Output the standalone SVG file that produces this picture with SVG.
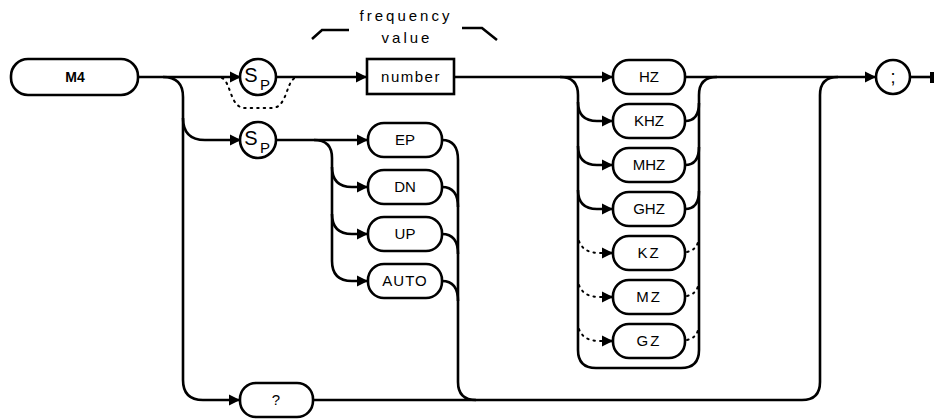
<svg xmlns="http://www.w3.org/2000/svg" width="936" height="419" viewBox="0 0 936 419">
<style>
.ln{fill:none;stroke:#000;stroke-width:2.6}
.dt{fill:none;stroke:#000;stroke-width:2;stroke-dasharray:1.5 5;stroke-linecap:round}
.nd{fill:#fff;stroke:#000;stroke-width:2.6}
.tx{font-family:"Liberation Sans",Arial,sans-serif;font-size:15px;fill:#000;text-anchor:middle}
.b{font-weight:bold;font-size:14px}
.s{font-size:20px}
.p{font-size:15px}
.sc{font-size:18px}
</style>
<defs>
<marker id="ar" markerUnits="userSpaceOnUse" markerWidth="12" markerHeight="12" refX="11" refY="6" orient="auto">
<path d="M0,0.5 L11,6 L0,11.5 z" fill="#000"/>
</marker>
</defs>
<g id="connectors">
<path class="ln" d="M138,77 H241" marker-end="url(#ar)"/>
<path class="ln" d="M276,77 H367" marker-end="url(#ar)"/>
<path class="ln" d="M454,77 H613" marker-end="url(#ar)"/>
<path class="ln" d="M685,77 H876" marker-end="url(#ar)"/>
<path class="ln" d="M910,77 H931"/>
<rect x="930" y="72" width="4" height="11" fill="#000"/>
<path class="ln" d="M163,77 Q183,77 183,97 V380 Q183,400 203,400 H240" marker-end="url(#ar)"/>
<path class="ln" d="M183,118 Q183,140 205,140 H241" marker-end="url(#ar)"/>
<path class="dt" d="M222,78 C231,82 230,108 245,108 H272 C287,108 286,82 295,78"/>
<path class="ln" d="M276,140 H368" marker-end="url(#ar)"/>
<path class="ln" d="M314,140 Q332,140 332,158 V261 Q332,281 352,281 H368" marker-end="url(#ar)"/>
<path class="ln" d="M332,167 Q332,187 352,187 H368" marker-end="url(#ar)"/>
<path class="ln" d="M332,214 Q332,234 352,234 H368" marker-end="url(#ar)"/>
<path class="ln" d="M442,140 Q458,140 458,160 V382 Q458,400 476,400"/>
<path class="ln" d="M442,187 Q458,187 458,207"/>
<path class="ln" d="M442,234 Q458,234 458,254"/>
<path class="ln" d="M442,281 Q458,281 458,301"/>
<path class="ln" d="M313,400 H802 Q820,400 820,382 V95 Q820,77 838,77"/>
<path class="ln" d="M560,77 Q578,77 578,95 V350 Q578,368 596,368 H681 Q699,368 699,350 V95 Q699,77 717,77"/>
<path class="ln" d="M578,102 Q578,121 597,121 H613" marker-end="url(#ar)"/>
<path class="ln" d="M578,146 Q578,165 597,165 H613" marker-end="url(#ar)"/>
<path class="ln" d="M578,190 Q578,209 597,209 H613" marker-end="url(#ar)"/>
<path class="dt" d="M579,241 Q583,253 600,253 H604"/>
<path class="ln" d="M602,253 H613" marker-end="url(#ar)"/>
<path class="dt" d="M579,285 Q583,297 600,297 H604"/>
<path class="ln" d="M602,297 H613" marker-end="url(#ar)"/>
<path class="dt" d="M579,329 Q583,341 600,341 H604"/>
<path class="ln" d="M602,341 H613" marker-end="url(#ar)"/>
<path class="ln" d="M685,121 Q699,121 699,103"/>
<path class="ln" d="M685,165 Q699,165 699,147"/>
<path class="ln" d="M685,209 Q699,209 699,191"/>
<path class="dt" d="M687,252 Q696,250 698,242"/>
<path class="dt" d="M687,296 Q696,294 698,286"/>
<path class="dt" d="M687,340 Q696,338 698,330"/>
<path class="ln" d="M312,39 L322,30 H349"/>
<path class="ln" d="M462,28 H482 L497,40"/>
</g>
<g id="label-frequency-value">
<text class="tx" x="406" y="21" letter-spacing="3">frequency</text>
<text class="tx" x="407" y="43" letter-spacing="3">value</text>
</g>
<g id="node-M4">
<rect class="nd" x="11" y="59" width="127" height="36" rx="17"/>
<text class="tx b" x="75" y="82">M4</text>
</g>
<g id="node-sp1">
<circle class="nd" cx="258" cy="77" r="18"/>
<text class="tx s" x="251" y="82">S</text>
<text class="tx p" x="265" y="90">P</text>
</g>
<g id="node-sp2">
<circle class="nd" cx="258" cy="140" r="18"/>
<text class="tx s" x="251" y="145">S</text>
<text class="tx p" x="265" y="153">P</text>
</g>
<g id="node-number">
<rect class="nd" x="367" y="59" width="87" height="35"/>
<text class="tx" x="411" y="82" letter-spacing="1.5">number</text>
</g>
<g id="node-EP"><rect class="nd" x="368" y="123" width="74" height="34" rx="16"/><text class="tx" x="405" y="145">EP</text></g>
<g id="node-DN"><rect class="nd" x="368" y="170" width="74" height="34" rx="16"/><text class="tx" x="405" y="192">DN</text></g>
<g id="node-UP"><rect class="nd" x="368" y="217" width="74" height="34" rx="16"/><text class="tx" x="405" y="239">UP</text></g>
<g id="node-AUTO"><rect class="nd" x="368" y="264" width="74" height="34" rx="16"/><text class="tx" x="405" y="286" letter-spacing="1">AUTO</text></g>
<g id="node-HZ"><rect class="nd" x="613" y="60" width="72" height="34" rx="16"/><text class="tx" x="649" y="82">HZ</text></g>
<g id="node-KHZ"><rect class="nd" x="613" y="104" width="72" height="34" rx="16"/><text class="tx" x="649" y="126">KHZ</text></g>
<g id="node-MHZ"><rect class="nd" x="613" y="148" width="72" height="34" rx="16"/><text class="tx" x="649" y="170">MHZ</text></g>
<g id="node-GHZ"><rect class="nd" x="613" y="192" width="72" height="34" rx="16"/><text class="tx" x="649" y="214">GHZ</text></g>
<g id="node-KZ"><rect class="nd" x="613" y="236" width="72" height="34" rx="16"/><text class="tx" x="649" y="258" letter-spacing="2">KZ</text></g>
<g id="node-MZ"><rect class="nd" x="613" y="280" width="72" height="34" rx="16"/><text class="tx" x="649" y="302" letter-spacing="2">MZ</text></g>
<g id="node-GZ"><rect class="nd" x="613" y="324" width="72" height="34" rx="16"/><text class="tx" x="649" y="346" letter-spacing="2">GZ</text></g>
<g id="node-query"><rect class="nd" x="240" y="383" width="73" height="34" rx="16"/><text class="tx" x="276" y="405">?</text></g>
<g id="node-semicolon"><circle class="nd" cx="893" cy="77" r="17"/><text class="tx sc" x="893" y="83">;</text></g>
</svg>
